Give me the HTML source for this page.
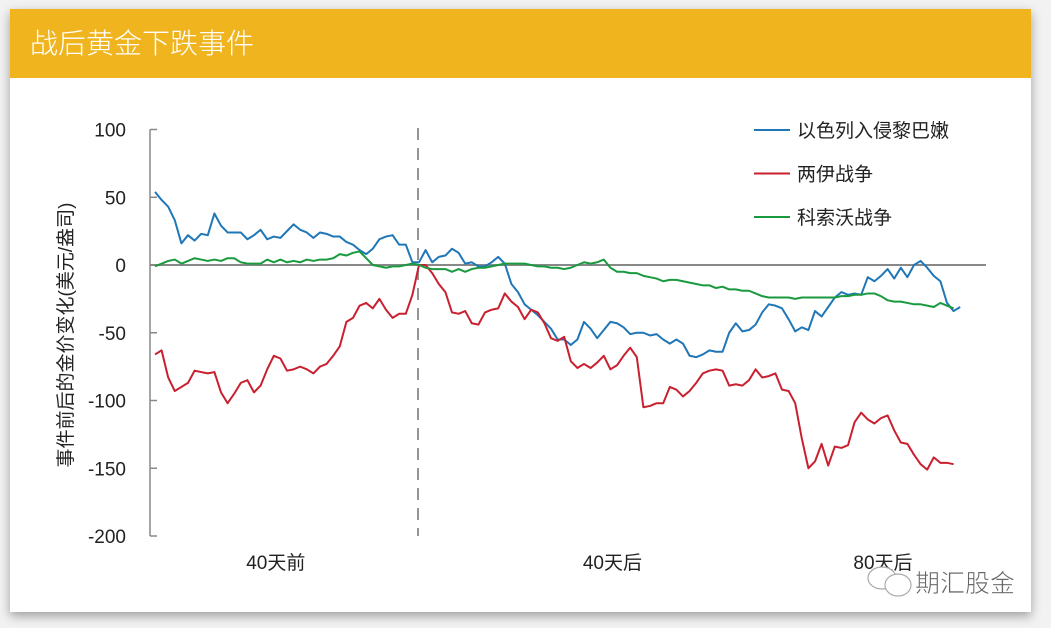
<!DOCTYPE html>
<html><head><meta charset="utf-8">
<style>
body{margin:0;width:1051px;height:628px;background:#f2f2f2;overflow:hidden;font-family:"Liberation Sans","Noto Sans CJK SC",sans-serif;}
#card{position:absolute;left:10px;top:9px;width:1021px;height:603px;background:#fff;box-shadow:0 4px 10px rgba(0,0,0,0.35);}
#hdr{position:absolute;left:0;top:0;width:1021px;height:69px;background:#F0B41F;}
#ttl{position:absolute;left:20px;top:15px;color:#fff;font-size:28px;font-family:"Noto Sans CJK SC",sans-serif;font-weight:300;line-height:36px;}
svg{position:absolute;left:0;top:0;}
</style></head><body>
<div id="card">
<div id="hdr"><div id="ttl">战后黄金下跌事件</div></div>
</div>
<svg id="chart" width="1051" height="628" font-family="Liberation Sans, Noto Sans CJK SC, sans-serif"></svg>
<script>
const yTicks=[100,50,0,-50,-100,-150,-200];
const xLabels=["40天前","40天后","80天后"];
const xLabelIdx=[18,69,110];
const seriesNames=["以色列入侵黎巴嫩","两伊战争","科索沃战争"];
const blue=[54,48,43,33,16,22,18,23,22,38,29,24,24,24,19,22,26,19,21,20,25,30,26,24,20,24,23,21,21,17,15,11,8,12,19,21,22,15,15,2,2,11,2,6,7,12,9,1,2,-1,-1,2,6,1,-14,-20,-29,-33,-37,-42,-47,-55,-55,-59,-55,-42,-47,-54,-48,-42,-43,-46,-51,-50,-50,-52,-51,-55,-58,-55,-58,-67,-68,-66,-63,-64,-64,-50,-43,-49,-48,-44,-35,-29,-30,-32,-40,-49,-46,-48,-34,-38,-31,-24,-20,-22,-21,-22,-9,-12,-8,-3,-10,-2,-9,0,3,-2,-8,-12,-28,-34,-31];
const red=[-66,-63,-83,-93,-90,-87,-78,-79,-80,-79,-94,-102,-95,-87,-85,-94,-89,-77,-67,-69,-78,-77,-75,-77,-80,-75,-73,-67,-60,-42,-39,-30,-28,-32,-25,-33,-39,-36,-36,-22,0,0,-6,-14,-20,-35,-36,-34,-43,-44,-35,-33,-32,-21,-27,-31,-40,-33,-35,-43,-54,-56,-53,-71,-76,-73,-76,-72,-67,-77,-74,-67,-61,-68,-105,-104,-102,-102,-90,-92,-97,-93,-87,-80,-78,-77,-78,-89,-88,-89,-85,-77,-83,-82,-80,-92,-93,-102,-128,-150,-145,-132,-148,-134,-135,-133,-116,-109,-114,-117,-113,-111,-122,-131,-132,-140,-147,-151,-142,-146,-146,-147];
const green=[-1,1,3,4,1,3,5,4,3,4,3,5,5,2,1,1,1,4,2,4,2,3,2,4,3,4,4,5,8,7,9,10,5,0,-1,-2,-1,-1,0,1,0,-2,-3,-3,-3,-5,-3,-5,-3,-2,-2,-1,0,1,1,1,1,0,-1,-1,-2,-2,-3,-2,0,2,1,2,4,-2,-5,-5,-6,-6,-8,-9,-10,-12,-11,-11,-12,-13,-14,-15,-15,-17,-16,-18,-18,-19,-19,-21,-23,-24,-24,-24,-24,-25,-24,-24,-24,-24,-24,-24,-23,-23,-22,-22,-21,-21,-23,-26,-27,-27,-28,-29,-29,-30,-31,-28,-30,-32];
const colors=["#1f77b8","#c8202f","#1a9a3e"];
const svg=document.getElementById('chart');
const NS='http://www.w3.org/2000/svg';
const X=i=>155+6.6*i;
const Y=v=>265-v*1.355;
function mk(t,a,p){const e=document.createElementNS(NS,t);for(const k in a)e.setAttribute(k,a[k]);(p||svg).appendChild(e);return e;}
let ax=mk('line',{x1:150,y1:Y(100),x2:150,y2:Y(-200),stroke:'#888','stroke-width':1.5});


yTicks.forEach(v=>{
 let t=mk('line',{x1:150,y1:Y(v),x2:157,y2:Y(v),stroke:'#888','stroke-width':1.5});
 
 
 let l=mk('text',{x:126,y:Y(v)+7,'text-anchor':'end','font-size':19,fill:'#222'});l.textContent=v;
 
 
});
let z=mk('line',{x1:150,y1:Y(0),x2:986,y2:Y(0),stroke:'#888','stroke-width':2});


let d=mk('line',{x1:418,y1:128,x2:418,y2:536,stroke:'#888','stroke-width':1.8,'stroke-dasharray':'12,8'});


xLabels.forEach((s,k)=>{
 let l=mk('text',{x:X(xLabelIdx[k])+2,y:569,'text-anchor':'middle','font-size':19,fill:'#222'});l.textContent=s;
 
 
});
let yt=mk('text',{x:0,y:0,transform:'translate(72,335) rotate(-90)','text-anchor':'middle','font-size':19,fill:'#222'});
yt.textContent='事件前后的金价变化(美元/盎司)';


[blue,red,green].forEach((s,k)=>{
 let p=mk('polyline',{points:s.map((v,i)=>X(i)+','+Y(v)).join(' '),fill:'none',stroke:colors[k],'stroke-width':2,'stroke-linejoin':'round'});
 
 
 let ll=mk('line',{x1:754,y1:130+k*43.5,x2:790,y2:130+k*43.5,stroke:colors[k],'stroke-width':2});
 
 
 let lt=mk('text',{x:797,y:137+k*43.5,'font-size':19,fill:'#222'});lt.textContent=seriesNames[k];
 
 
});
let g=mk('g',{stroke:'#aaa',fill:'#fff','stroke-width':1.2});


mk('ellipse',{cx:882,cy:578,rx:14,ry:11},g);
mk('ellipse',{cx:898,cy:585,rx:13,ry:11},g);
let wm=mk('text',{x:915,y:592,'font-size':25,fill:'#666',stroke:'#fff','stroke-width':0.6});wm.textContent='期汇股金';


</script>
</body></html>
